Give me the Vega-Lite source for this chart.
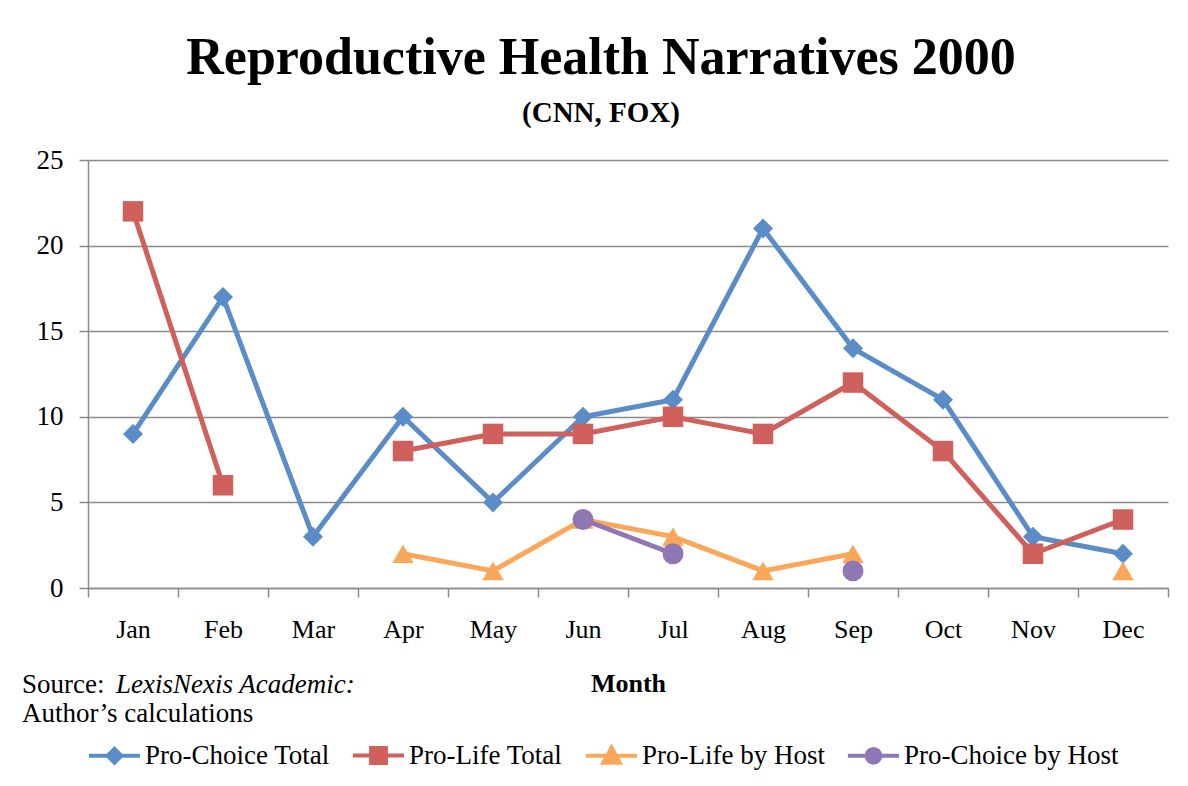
{
  "$schema": "https://vega.github.io/schema/vega-lite/v6.json",
  "width": 1080,
  "height": 428,
  "autosize": "none",
  "padding": {"left": 88, "top": 160, "right": 20, "bottom": 198},
  "background": "white",
  "config": {
    "view": {"stroke": null},
    "font": "Liberation Serif"
  },
  "title": {
    "text": "Reproductive Health Narratives 2000",
    "subtitle": "(CNN, FOX)",
    "font": "Liberation Serif",
    "fontSize": 52,
    "fontWeight": "bold",
    "color": "black",
    "subtitleFont": "Liberation Serif",
    "subtitleFontSize": 29,
    "subtitleFontWeight": "bold",
    "subtitleColor": "black",
    "subtitlePadding": 14,
    "anchor": "middle",
    "dx": -27,
    "offset": 17
  },
  "data": {
    "values": [
      {"month": "Jan", "series": "Pro-Choice Total", "value": 9},
      {"month": "Feb", "series": "Pro-Choice Total", "value": 17},
      {"month": "Mar", "series": "Pro-Choice Total", "value": 3},
      {"month": "Apr", "series": "Pro-Choice Total", "value": 10},
      {"month": "May", "series": "Pro-Choice Total", "value": 5},
      {"month": "Jun", "series": "Pro-Choice Total", "value": 10},
      {"month": "Jul", "series": "Pro-Choice Total", "value": 11},
      {"month": "Aug", "series": "Pro-Choice Total", "value": 21},
      {"month": "Sep", "series": "Pro-Choice Total", "value": 14},
      {"month": "Oct", "series": "Pro-Choice Total", "value": 11},
      {"month": "Nov", "series": "Pro-Choice Total", "value": 3},
      {"month": "Dec", "series": "Pro-Choice Total", "value": 2},
      {"month": "Jan", "series": "Pro-Life Total", "value": 22},
      {"month": "Feb", "series": "Pro-Life Total", "value": 6},
      {"month": "Mar", "series": "Pro-Life Total", "value": null},
      {"month": "Apr", "series": "Pro-Life Total", "value": 8},
      {"month": "May", "series": "Pro-Life Total", "value": 9},
      {"month": "Jun", "series": "Pro-Life Total", "value": 9},
      {"month": "Jul", "series": "Pro-Life Total", "value": 10},
      {"month": "Aug", "series": "Pro-Life Total", "value": 9},
      {"month": "Sep", "series": "Pro-Life Total", "value": 12},
      {"month": "Oct", "series": "Pro-Life Total", "value": 8},
      {"month": "Nov", "series": "Pro-Life Total", "value": 2},
      {"month": "Dec", "series": "Pro-Life Total", "value": 4},
      {"month": "Apr", "series": "Pro-Life by Host", "value": 2},
      {"month": "May", "series": "Pro-Life by Host", "value": 1},
      {"month": "Jun", "series": "Pro-Life by Host", "value": 4},
      {"month": "Jul", "series": "Pro-Life by Host", "value": 3},
      {"month": "Aug", "series": "Pro-Life by Host", "value": 1},
      {"month": "Sep", "series": "Pro-Life by Host", "value": 2},
      {"month": "Oct", "series": "Pro-Life by Host", "value": null},
      {"month": "Nov", "series": "Pro-Life by Host", "value": null},
      {"month": "Dec", "series": "Pro-Life by Host", "value": 1},
      {"month": "Jun", "series": "Pro-Choice by Host", "value": 4},
      {"month": "Jul", "series": "Pro-Choice by Host", "value": 2},
      {"month": "Aug", "series": "Pro-Choice by Host", "value": null},
      {"month": "Sep", "series": "Pro-Choice by Host", "value": 1}
    ]
  },
  "layer": [
    {
      "mark": {"type": "line", "strokeWidth": 5, "invalid": "break-paths-filter-domains"},
      "encoding": {
        "x": {
          "field": "month", "type": "ordinal",
          "sort": ["Jan", "Feb", "Mar", "Apr", "May", "Jun", "Jul", "Aug", "Sep", "Oct", "Nov", "Dec"],
          "scale": {"type": "band", "paddingInner": 0, "paddingOuter": 0},
          "title": "Month",
          "axis": {
            "labelAngle": 0, "labelFont": "Liberation Serif", "labelFontSize": 26, "labelColor": "black",
            "labelPadding": 19, "tickBand": "extent", "tickSize": 9, "tickColor": "#8a8a8a", "tickWidth": 1.5,
            "domainColor": "#8a8a8a", "domainWidth": 1.5,
            "titleFont": "Liberation Serif", "titleFontSize": 26, "titleFontWeight": "bold", "titleColor": "black",
            "titlePadding": 28
          }
        },
        "y": {
          "field": "value", "type": "quantitative",
          "scale": {"domain": [0, 25], "nice": false},
          "title": null,
          "axis": {
            "values": [0, 5, 10, 15, 20, 25],
            "labelFont": "Liberation Serif", "labelFontSize": 27, "labelColor": "black", "labelPadding": 16,
            "tickSize": 9, "tickColor": "#8a8a8a", "tickWidth": 1.5,
            "domainColor": "#8a8a8a", "domainWidth": 1.5,
            "grid": true, "gridColor": "#8a8a8a", "gridWidth": 1.5
          }
        },
        "color": {
          "field": "series", "type": "nominal",
          "scale": {
            "domain": ["Pro-Choice Total", "Pro-Life Total", "Pro-Life by Host", "Pro-Choice by Host"],
            "range": ["#5a8cc8", "#cf605b", "#fba75a", "#8f77b4"]
          },
          "legend": {
            "title": null,
            "orient": "none",
            "legendX": -3,
            "legendY": 566,
            "direction": "horizontal",
            "columns": 4,
            "padding": 0,
            "symbolSize": 3025,
            "symbolStrokeWidth": 4,
            "symbolOpacity": 1,
            "labelFont": "Liberation Serif",
            "labelFontSize": 27,
            "labelColor": "black",
            "labelLimit": 400,
            "labelOffset": 1,
            "columnPadding": 14
          }
        }
      }
    },
    {
      "transform": [{"filter": "datum.series === 'Pro-Choice Total' && datum.value !== null"}],
      "mark": {"type": "point", "shape": "diamond", "filled": true, "opacity": 1, "size": 400},
      "encoding": {
        "x": {"field": "month", "type": "ordinal", "sort": ["Jan", "Feb", "Mar", "Apr", "May", "Jun", "Jul", "Aug", "Sep", "Oct", "Nov", "Dec"]},
        "y": {"field": "value", "type": "quantitative"},
        "fill": {"field": "series", "type": "nominal", "scale": {"domain": ["Pro-Choice Total", "Pro-Life Total", "Pro-Life by Host", "Pro-Choice by Host"], "range": ["#5a8cc8", "#cf605b", "#fba75a", "#8f77b4"]}, "legend": null}
      }
    },
    {
      "transform": [{"filter": "datum.series === 'Pro-Life Total' && datum.value !== null"}],
      "mark": {"type": "point", "shape": "square", "filled": true, "opacity": 1, "size": 420},
      "encoding": {
        "x": {"field": "month", "type": "ordinal", "sort": ["Jan", "Feb", "Mar", "Apr", "May", "Jun", "Jul", "Aug", "Sep", "Oct", "Nov", "Dec"]},
        "y": {"field": "value", "type": "quantitative"},
        "fill": {"field": "series", "type": "nominal", "legend": null}
      }
    },
    {
      "transform": [{"filter": "datum.series === 'Pro-Life by Host' && datum.value !== null"}],
      "mark": {"type": "point", "shape": "triangle-up", "filled": true, "opacity": 1, "size": 460},
      "encoding": {
        "x": {"field": "month", "type": "ordinal", "sort": ["Jan", "Feb", "Mar", "Apr", "May", "Jun", "Jul", "Aug", "Sep", "Oct", "Nov", "Dec"]},
        "y": {"field": "value", "type": "quantitative"},
        "fill": {"field": "series", "type": "nominal", "legend": null}
      }
    },
    {
      "transform": [{"filter": "datum.series === 'Pro-Choice by Host' && datum.value !== null"}],
      "mark": {"type": "point", "shape": "circle", "filled": true, "opacity": 1, "size": 440},
      "encoding": {
        "x": {"field": "month", "type": "ordinal", "sort": ["Jan", "Feb", "Mar", "Apr", "May", "Jun", "Jul", "Aug", "Sep", "Oct", "Nov", "Dec"]},
        "y": {"field": "value", "type": "quantitative"},
        "fill": {"field": "series", "type": "nominal", "legend": null}
      }
    },
    {
      "mark": {"type": "point", "filled": false, "size": 0, "invalid": "break-paths-filter-domains"},
      "encoding": {
        "x": {"field": "month", "type": "ordinal", "sort": ["Jan", "Feb", "Mar", "Apr", "May", "Jun", "Jul", "Aug", "Sep", "Oct", "Nov", "Dec"]},
        "y": {"field": "value", "type": "quantitative"},
        "stroke": {"field": "series", "type": "nominal", "scale": {"domain": ["Pro-Choice Total", "Pro-Life Total", "Pro-Life by Host", "Pro-Choice by Host"], "range": ["#5a8cc8", "#cf605b", "#fba75a", "#8f77b4"]}, "legend": null},
        "shape": {
          "field": "series", "type": "nominal",
          "scale": {
            "domain": ["Pro-Choice Total", "Pro-Life Total", "Pro-Life by Host", "Pro-Choice by Host"],
            "range": [
              "M-0.93,0H0.93M0,-0.25L0.25,0L0,0.25L-0.25,0Z",
              "M-0.93,0H0.93M-0.27,-0.27H0.27V0.27H-0.27Z",
              "M-0.93,0H0.93M0,-0.3L0.3,0.25H-0.3Z",
              "M-0.93,0H0.93M-0.25,0A0.25,0.25 0 1,0 0.25,0A0.25,0.25 0 1,0 -0.25,0Z"
            ]
          },
          "legend": null
        }
      }
    },
    {
      "data": {"values": [
        {"label": "Source:", "style": "normal", "line": 1},
        {"label": "LexisNexis Academic:", "style": "italic", "line": 1},
        {"label": "Author’s calculations", "style": "normal", "line": 2}
      ]},
      "layer": [
        {
          "transform": [{"filter": "datum.label === 'Source:'"}],
          "mark": {"type": "text", "align": "left", "baseline": "alphabetic", "font": "Liberation Serif", "fontSize": 27, "color": "black"},
          "encoding": {"text": {"field": "label"}, "x": {"value": -66}, "y": {"value": 533}}
        },
        {
          "transform": [{"filter": "datum.style === 'italic'"}],
          "mark": {"type": "text", "align": "left", "baseline": "alphabetic", "font": "Liberation Serif", "fontSize": 27, "fontStyle": "italic", "color": "black"},
          "encoding": {"text": {"field": "label"}, "x": {"value": 28}, "y": {"value": 533}}
        },
        {
          "transform": [{"filter": "datum.line === 2"}],
          "mark": {"type": "text", "align": "left", "baseline": "alphabetic", "font": "Liberation Serif", "fontSize": 27, "color": "black"},
          "encoding": {"text": {"field": "label"}, "x": {"value": -66}, "y": {"value": 562}}
        }
      ]
    }
  ]
}
